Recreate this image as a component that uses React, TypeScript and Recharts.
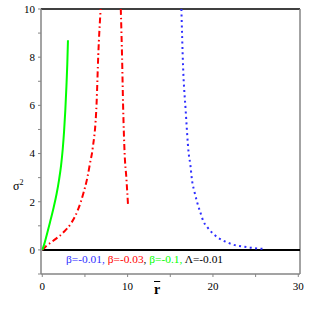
import { LineChart, Line, XAxis, YAxis, ReferenceLine } from 'recharts'

// ── Data ─────────────────────────────────────────────────────────────────────

const rBlue = [16.3, 16.5, 16.8, 17.15, 17.35, 17.55, 17.82, 18.13, 18.52, 18.9, 19.3, 19.7, 20.16, 20.67, 21.26, 21.84, 22.43, 23.0, 23.7, 24.27, 24.9, 25.56, 26.14]
const sBlue = [10, 7.6, 5.8, 4.03, 3.54, 2.88, 2.43, 2.0, 1.56, 1.17, 0.96, 0.79, 0.63, 0.49, 0.38, 0.29, 0.21, 0.17, 0.13, 0.1, 0.07, 0.05, 0.04]

const rRedA = [0, 0.5, 1.29, 2.46, 3.44, 4.22, 4.8, 5.3, 5.59, 5.9, 6.37, 6.56, 6.84]
const sRedA = [0, 0.17, 0.38, 0.72, 1.14, 1.7, 2.33, 3.03, 3.59, 4.2, 6.14, 8.08, 10]

const rRedB = [9.2, 9.35, 9.47, 9.65, 9.85, 10.05]
const sRedB = [10, 8, 6, 4, 3, 1.85]

const rGreen = [0, 0.23, 0.5, 0.9, 1.29, 1.68, 1.96, 2.2, 2.4, 2.55, 2.7, 2.83, 2.93, 3.01]
const sGreen = [0, 0.24, 0.59, 1.14, 1.7, 2.33, 2.9, 3.5, 4.2, 4.9, 5.8, 6.8, 7.7, 8.7]

const rLambda = [0, 30.2]
const sLambda = [0, 0]

const xTicks = [0, 5, 10, 15, 20, 25, 30]
const yTicks = [-1, 0, 1, 2, 3, 4, 5, 6, 7, 8, 9, 10]
const xMin = -0.15
const xMax = 30.2

const zip = (r: number[], s: number[]) => r.map((v, i) => ({ r: v, s: s[i] }))

const serif = '"Liberation Serif", "Times New Roman", Times, serif'
const gray = '#858585'
const tickStyle = { fill: '#000', fontSize: 11, fontFamily: serif }

export default function App() {
  return (
    <div style={{ position: 'absolute', left: 0, top: 0, width: 309, height: 309, background: '#fff', fontFamily: serif }}>
      <LineChart width={309} height={309} margin={{ top: 9, right: 9, bottom: 0, left: 0 }} style={{ fontFamily: serif }}>
        <XAxis
          dataKey="r"
          type="number"
          domain={[xMin, xMax]}
          ticks={xTicks}
          tickFormatter={(v) => (v % 10 === 0 ? String(v) : '')}
          allowDataOverflow
          height={35}
          tickSize={3}
          tickMargin={5}
          stroke={gray}
          axisLine={{ stroke: gray, strokeWidth: 1.5 }}
          tick={tickStyle}
        />
        <YAxis
          type="number"
          domain={[-1, 10]}
          ticks={yTicks}
          tickFormatter={(v) => (v >= 0 && v % 2 === 0 ? String(v) : '')}
          allowDataOverflow
          width={41}
          tickSize={3}
          tickMargin={3}
          stroke={gray}
          axisLine={{ stroke: gray, strokeWidth: 1.5 }}
          tick={tickStyle}
        />
        <ReferenceLine y={10} stroke="#000" strokeWidth={1.5} />
        <ReferenceLine x={xMax} stroke={gray} strokeWidth={1.5} />
        <Line data={zip(rLambda, sLambda)} dataKey="s" stroke="#000" strokeWidth={2} dot={false} isAnimationActive={false} />
        <Line data={zip(rBlue, sBlue)} dataKey="s" type="monotone" stroke="#2f2fff" strokeWidth={2} strokeDasharray="2 3.4" dot={false} isAnimationActive={false} />
        <Line data={zip(rRedA, sRedA)} dataKey="s" type="monotone" stroke="#ff0000" strokeWidth={2} strokeDasharray="6 3 1.5 3" dot={false} isAnimationActive={false} />
        <Line data={zip(rRedB, sRedB)} dataKey="s" type="monotone" stroke="#ff0000" strokeWidth={2} strokeDasharray="6 3 1.5 3" dot={false} isAnimationActive={false} />
        <Line data={zip(rGreen, sGreen)} dataKey="s" type="monotone" stroke="#00ff00" strokeWidth={2} dot={false} isAnimationActive={false} />
      </LineChart>

      {/* axis labels and legend text */}
      <div style={{ position: 'absolute', left: 13, top: 177, fontSize: 12, lineHeight: '12px' }}>
        σ<sup style={{ fontSize: 8 }}>2</sup>
      </div>
      <div style={{ position: 'absolute', left: 154, top: 283, fontSize: 14, fontWeight: 'bold', lineHeight: '14px', textDecoration: 'overline' }}>
        r
      </div>
      <div style={{ position: 'absolute', left: 66, top: 253, fontSize: 11.4, lineHeight: '12px', whiteSpace: 'nowrap' }}>
        <span style={{ color: '#2f2fff' }}>β=-0.01, </span>
        <span style={{ color: '#ff0000' }}>β=-0.03</span>
        <span style={{ color: '#000' }}>, </span>
        <span style={{ color: '#00ff00' }}>β=-0.1, </span>
        <span style={{ color: '#000' }}>Λ=-0.01</span>
      </div>
    </div>
  )
}
